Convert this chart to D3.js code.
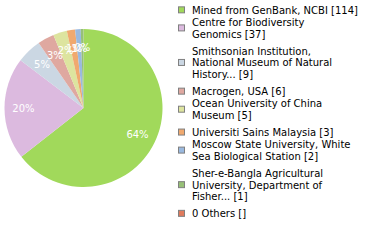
<!DOCTYPE html>
<html>
<head>
<meta charset="utf-8">
<script src="https://cdn.jsdelivr.net/npm/d3@7/dist/d3.min.js"></script>
<style>
html,body{margin:0;padding:0;background:#fff;}
svg{display:block;}
text{font-family:"DejaVu Sans",sans-serif;}
</style>
</head>
<body>
<svg id="chart" width="380" height="240"></svg>
<script>
const categories = [
  "Mined from GenBank, NCBI",
  "Centre for Biodiversity Genomics",
  "Smithsonian Institution, National Museum of Natural History...",
  "Macrogen, USA",
  "Ocean University of China Museum",
  "Universiti Sains Malaysia",
  "Moscow State University, White Sea Biological Station",
  "Sher-e-Bangla Agricultural University, Department of Fisher...",
  "0 Others"
];
const counts = [114, 37, 9, 6, 5, 3, 2, 1, 0];
const legendLines = [
  ["Mined from GenBank, NCBI [114]"],
  ["Centre for Biodiversity", "Genomics [37]"],
  ["Smithsonian Institution,", "National Museum of Natural", "History... [9]"],
  ["Macrogen, USA [6]"],
  ["Ocean University of China", "Museum [5]"],
  ["Universiti Sains Malaysia [3]"],
  ["Moscow State University, White", "Sea Biological Station [2]"],
  ["Sher-e-Bangla Agricultural", "University, Department of", "Fisher... [1]"],
  ["0 Others []"]
];
const colors = ["#a1d95b", "#dcbadf", "#cbd7e3", "#dfa8a0", "#dde49f", "#f0a96f", "#9ab9df", "#97c077", "#e07b5d"];

const svg = d3.select("#chart");
const cx = 83.5, cy = 108, r = 79;
const total = d3.sum(counts);
const data = categories.map((c, i) => ({name: c, value: counts[i], color: colors[i]}));

const pie = d3.pie().value(d => d.value).sort(null);
const arc = d3.arc().innerRadius(0).outerRadius(r);
const labelArc = d3.arc().innerRadius(r * 0.76).outerRadius(r * 0.76);

const g = svg.append("g").attr("transform", `translate(${cx},${cy})`);
const arcs = pie(data).filter(d => d.data.value > 0);
g.selectAll("path").data(arcs).enter().append("path")
  .attr("d", arc).attr("fill", d => d.data.color);
g.selectAll("text").data(arcs).enter().append("text")
  .attr("transform", d => `translate(${labelArc.centroid(d)})`)
  .attr("text-anchor", "middle").attr("dy", "0.35em")
  .attr("fill", "#fff").attr("font-size", "10px")
  .text(d => Math.floor(d.data.value / total * 100) + "%");

// legend
const lg = svg.append("g");
const lineH = 11.7;
let y = 4.5;
legendLines.forEach((lines, i) => {
  const h = lines.length * lineH;
  const mid = y + h / 2;
  lg.append("rect").attr("x", 178.5).attr("y", mid - 3.5).attr("width", 6).attr("height", 6)
    .attr("fill", colors[i]).attr("stroke", "#808080").attr("stroke-width", 1);
  const t = lg.append("text").attr("x", 192).attr("font-size", "10px").attr("fill", "#000");
  lines.forEach((ln, j) => {
    t.append("tspan").attr("x", 192).attr("y", y + lineH * j + lineH / 2).attr("dy", "0.35em").text(ln);
  });
  y += h + (lines.length > 1 ? 5.3 : 0.5);
});
</script>
</body>
</html>
